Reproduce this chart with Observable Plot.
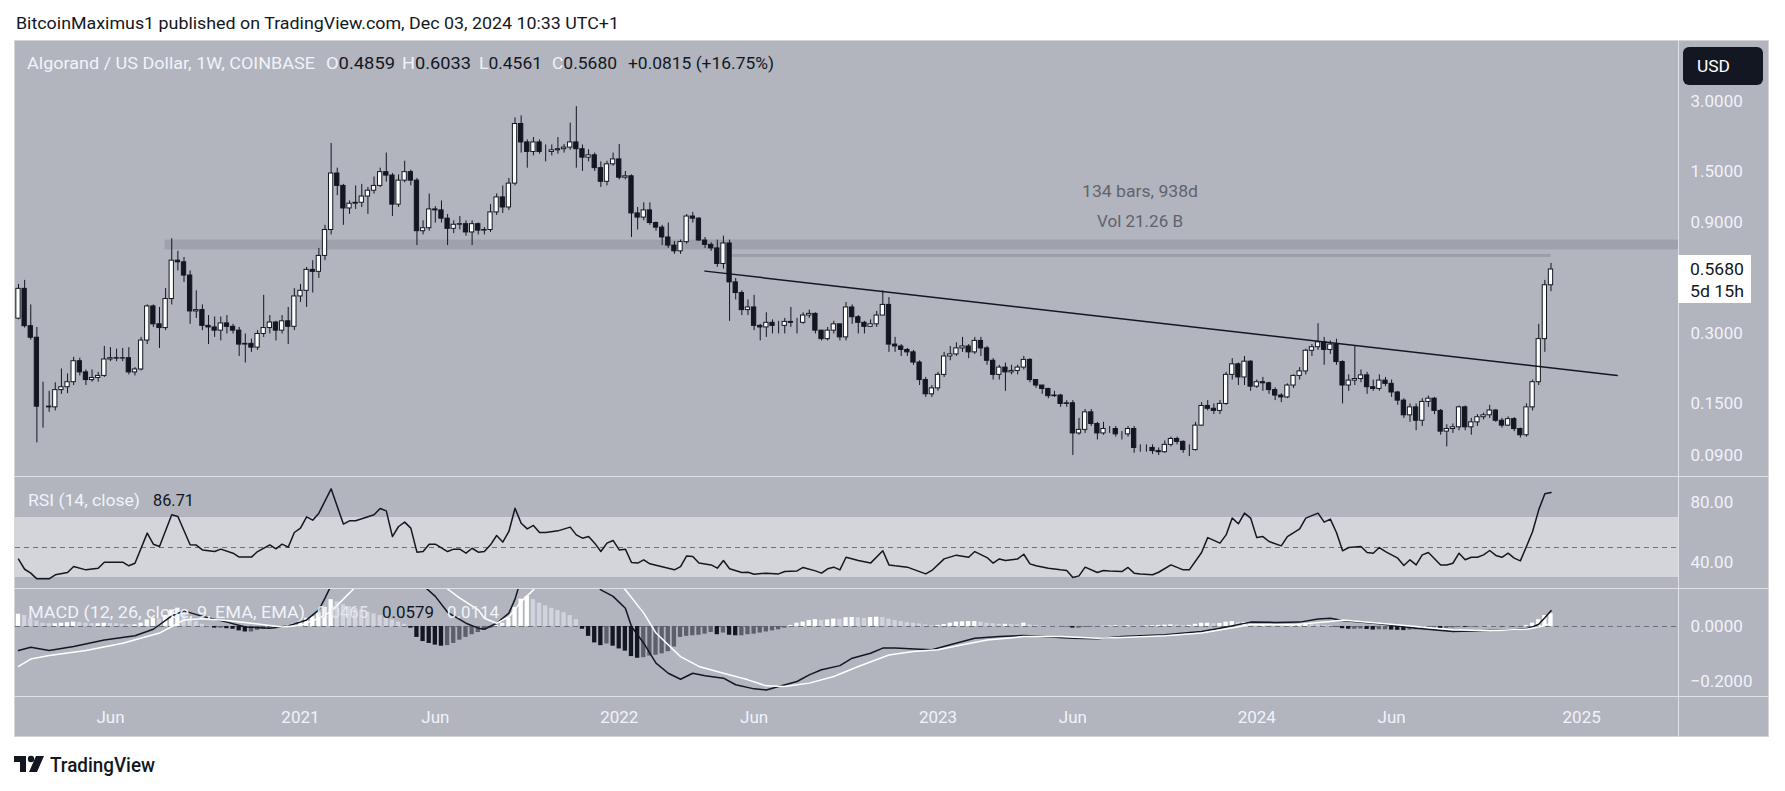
<!DOCTYPE html>
<html><head><meta charset="utf-8">
<script src="https://cdn.jsdelivr.net/npm/d3@7"></script>
<script src="https://cdn.jsdelivr.net/npm/@observablehq/plot@0.6"></script>
<style>
html,body{margin:0;padding:0;background:#ffffff;}
#root{position:relative;width:1785px;height:791px;overflow:hidden;font-family:Roboto,"Noto Sans",sans-serif;}
</style></head>
<body><div id="root"></div>
<script>
// ---------------- DATA ----------------
// weekly candles, week 0 = 2020-02-17, last week 250 = 2024-12-02
const firstOpen = 0.349;
const closes = [
0.469,0.324,0.289,0.146,0.146,0.145,0.172,0.177,0.186,0.229,
0.205,0.190,0.194,0.198,0.233,0.236,0.235,0.236,0.205,0.211,
0.281,0.394,0.330,0.318,0.424,0.620,0.610,0.535,0.375,0.380,
0.325,0.320,0.310,0.333,0.322,0.310,0.270,0.272,0.262,0.300,
0.318,0.336,0.310,0.340,0.322,0.435,0.460,0.566,0.555,0.650,
0.840,1.470,1.300,1.040,1.090,1.100,1.170,1.240,1.300,1.490,
1.440,1.080,1.370,1.490,1.370,0.830,0.855,1.030,1.020,0.940,
0.850,0.885,0.890,0.820,0.890,0.835,0.840,1.000,1.160,1.050,
1.330,2.400,2.000,1.820,2.000,1.820,1.820,1.850,1.870,1.900,
2.000,1.870,1.720,1.760,1.550,1.354,1.610,1.690,1.410,1.430,
0.990,0.950,1.020,0.900,0.860,0.780,0.720,0.680,0.745,0.960,
0.940,0.757,0.725,0.700,0.600,0.735,0.500,0.450,0.380,0.390,
0.325,0.320,0.335,0.325,0.325,0.338,0.335,0.335,0.360,0.366,
0.310,0.285,0.310,0.330,0.290,0.390,0.354,0.335,0.322,0.330,
0.360,0.400,0.270,0.265,0.256,0.250,0.226,0.190,0.165,0.175,
0.200,0.240,0.245,0.260,0.265,0.250,0.280,0.260,0.230,0.200,
0.215,0.205,0.208,0.215,0.232,0.190,0.180,0.174,0.162,0.163,
0.150,0.151,0.112,0.116,0.138,0.123,0.112,0.117,0.117,0.111,
0.111,0.117,0.097,0.097,0.097,0.094,0.093,0.100,0.106,0.103,
0.095,0.095,0.121,0.147,0.143,0.140,0.150,0.200,0.222,0.195,
0.228,0.178,0.186,0.184,0.172,0.163,0.160,0.180,0.198,0.207,
0.254,0.263,0.276,0.256,0.270,0.227,0.180,0.189,0.192,0.199,
0.177,0.174,0.189,0.183,0.168,0.155,0.134,0.145,0.127,0.153,
0.158,0.140,0.114,0.117,0.119,0.145,0.119,0.125,0.1315,0.134,
0.1405,0.127,0.121,0.129,0.117,0.110,0.145,0.186,0.285,0.4859,
0.568];
const highs = [
0.49,0.51,0.40,0.32,0.186,0.17,0.185,0.212,0.202,0.238,
0.236,0.21,0.21,0.205,0.265,0.262,0.258,0.26,0.262,0.215,
0.29,0.40,0.40,0.39,0.47,0.77,0.68,0.64,0.56,0.46,
0.40,0.36,0.355,0.355,0.36,0.33,0.32,0.30,0.285,0.31,
0.44,0.36,0.34,0.36,0.39,0.47,0.49,0.58,0.62,0.70,
0.88,1.98,1.55,1.32,1.12,1.30,1.32,1.28,1.42,1.55,
1.80,1.47,1.45,1.66,1.52,1.40,0.92,1.20,1.06,1.12,
0.98,0.92,0.96,0.92,0.92,0.90,0.86,1.08,1.20,1.30,
1.40,2.55,2.60,2.05,2.10,2.05,1.95,1.95,2.10,1.96,
2.42,2.85,1.95,1.86,1.80,1.65,1.66,1.80,1.96,1.50,
1.45,1.05,1.10,1.10,0.91,0.88,0.90,0.75,0.76,0.98,
1.00,0.95,0.78,0.74,0.76,0.79,0.76,0.52,0.46,0.42,
0.44,0.33,0.37,0.345,0.34,0.35,0.39,0.35,0.37,0.38,
0.37,0.31,0.32,0.34,0.33,0.41,0.40,0.36,0.34,0.345,
0.375,0.46,0.43,0.29,0.27,0.26,0.255,0.23,0.195,0.18,
0.205,0.25,0.265,0.275,0.29,0.27,0.29,0.29,0.265,0.235,
0.22,0.225,0.22,0.22,0.24,0.235,0.19,0.18,0.175,0.17,
0.165,0.155,0.155,0.13,0.142,0.142,0.125,0.125,0.12,0.12,
0.114,0.12,0.12,0.10,0.10,0.10,0.097,0.104,0.108,0.108,
0.104,0.10,0.125,0.152,0.155,0.15,0.155,0.205,0.235,0.225,
0.24,0.23,0.19,0.195,0.186,0.176,0.166,0.183,0.20,0.215,
0.258,0.27,0.332,0.29,0.28,0.285,0.23,0.20,0.267,0.21,
0.205,0.19,0.20,0.195,0.19,0.17,0.158,0.15,0.15,0.158,
0.162,0.16,0.142,0.122,0.123,0.147,0.147,0.13,0.135,0.137,
0.148,0.142,0.13,0.132,0.131,0.118,0.15,0.19,0.33,0.51,
0.6033];
const lows = [
0.345,0.318,0.282,0.102,0.118,0.138,0.14,0.165,0.166,0.18,
0.198,0.18,0.186,0.186,0.195,0.228,0.228,0.228,0.20,0.198,
0.208,0.27,0.32,0.26,0.31,0.40,0.56,0.50,0.33,0.35,
0.31,0.27,0.29,0.28,0.30,0.30,0.24,0.225,0.25,0.255,
0.29,0.30,0.28,0.30,0.27,0.31,0.41,0.39,0.45,0.52,
0.62,0.80,1.18,0.88,0.98,1.03,1.05,0.98,1.20,1.28,
1.35,0.96,1.05,1.34,1.30,0.72,0.80,0.83,0.90,0.90,
0.72,0.81,0.84,0.79,0.72,0.80,0.80,0.82,0.97,0.99,
1.02,1.30,1.80,1.55,1.75,1.78,1.65,1.75,1.78,1.80,
1.85,1.55,1.50,1.65,1.50,1.28,1.30,1.58,1.38,1.38,
0.78,0.84,0.92,0.88,0.83,0.72,0.70,0.66,0.66,0.73,
0.90,0.75,0.70,0.68,0.58,0.57,0.34,0.42,0.36,0.36,
0.31,0.28,0.29,0.30,0.30,0.30,0.32,0.30,0.33,0.35,
0.30,0.28,0.28,0.30,0.28,0.28,0.33,0.30,0.30,0.32,
0.32,0.36,0.25,0.25,0.24,0.24,0.22,0.18,0.16,0.16,
0.17,0.195,0.23,0.24,0.25,0.235,0.245,0.24,0.22,0.19,
0.19,0.17,0.20,0.20,0.21,0.185,0.175,0.165,0.158,0.16,
0.145,0.145,0.09,0.11,0.112,0.12,0.105,0.11,0.112,0.108,
0.105,0.108,0.092,0.093,0.093,0.091,0.09,0.092,0.098,0.10,
0.092,0.089,0.094,0.12,0.14,0.135,0.135,0.148,0.19,0.18,
0.18,0.17,0.175,0.17,0.165,0.155,0.152,0.158,0.175,0.19,
0.20,0.24,0.255,0.22,0.245,0.22,0.15,0.17,0.18,0.185,
0.165,0.17,0.17,0.178,0.16,0.148,0.13,0.125,0.115,0.12,
0.145,0.135,0.11,0.098,0.112,0.115,0.115,0.11,0.12,0.128,
0.13,0.125,0.118,0.12,0.114,0.107,0.108,0.14,0.18,0.25,
0.4561];

// RSI(14): [week, value]
const rsiPoints = [[0,42.2],[1,35.5],[2,32.9],[3,29.1],[5,29.1],[6,31.8],[8,33.3],[9,37.3],[11,35.1],[13,36.2],[14,40.2],[17,40.2],[18,37.8],[19,39.5],[21,59.6],[22,52.2],[23,50.7],[25,71.8],[26,70.7],[28,51.8],[29,51.6],[30,48.4],[32,47.3],[33,48.9],[35,46.2],[36,43.6],[38,43.6],[39,47.3],[41,51.8],[42,49.1],[43,52.2],[44,50.2],[45,60.0],[46,62.9],[47,70.4],[48,68.2],[49,72.9],[51,89.1],[53,65.6],[54,67.8],[55,67.8],[58,71.8],[59,76.0],[60,74.4],[61,57.3],[62,64.0],[63,66.9],[64,62.9],[65,46.9],[66,47.3],[67,52.2],[68,52.2],[70,47.3],[71,48.9],[72,48.9],[73,46.2],[74,49.5],[75,46.9],[76,47.3],[77,51.8],[78,58.0],[79,53.6],[80,60.7],[81,76.2],[82,66.2],[83,62.4],[84,64.7],[85,60.0],[86,60.0],[88,61.1],[90,63.6],[91,58.4],[92,56.2],[93,57.3],[94,52.9],[95,47.3],[96,52.9],[97,54.7],[98,48.4],[99,48.9],[100,40.0],[101,39.6],[102,41.8],[103,39.1],[107,35.1],[108,37.3],[109,44.4],[110,44.0],[111,39.6],[113,38.4],[114,36.2],[115,41.3],[116,35.8],[118,33.3],[119,33.5],[120,32.2],[122,32.9],[124,32.4],[125,34.0],[127,34.4],[128,36.7],[130,34.4],[131,32.9],[132,35.8],[133,36.9],[134,35.1],[135,43.5],[137,41.3],[139,39.6],[141,47.8],[142,38.4],[143,37.8],[145,36.9],[148,32.4],[149,34.7],[151,42.4],[153,44.9],[155,43.5],[156,47.3],[158,43.3],[159,39.6],[160,42.4],[161,41.3],[163,42.4],[164,45.5],[165,39.1],[166,37.8],[168,36.2],[170,35.1],[171,34.7],[172,30.0],[173,31.1],[174,36.9],[176,33.3],[177,34.7],[178,34.4],[180,34.0],[181,36.7],[182,32.9],[183,32.4],[185,31.8],[186,33.5],[188,38.4],[190,35.1],[191,35.1],[193,46.7],[194,56.6],[196,52.9],[197,58.4],[198,69.6],[199,65.8],[200,72.9],[201,69.6],[202,56.6],[203,57.3],[204,54.0],[206,51.1],[207,57.3],[209,62.4],[210,69.6],[212,72.9],[213,66.9],[214,68.9],[215,60.0],[216,47.8],[217,50.0],[219,50.7],[220,46.7],[221,46.2],[222,50.0],[223,47.3],[225,42.9],[226,38.0],[227,41.8],[228,38.4],[229,45.1],[230,46.7],[232,38.4],[233,38.4],[234,39.5],[235,46.2],[236,41.8],[237,43.5],[238,43.5],[239,45.1],[240,48.0],[241,44.7],[242,43.5],[243,46.2],[244,42.9],[245,41.1],[246,50.7],[247,60.7],[248,75.1],[249,85.8],[250,86.71]];
const rsiBandLevels = [30, 70];
const rsiMidLevel = 50;
const rsiTicks = [80, 40];

// MACD (12, 26, close, 9): [week, value]
const macdPoints = [[0,-0.088],[2,-0.076],[5,-0.088],[9,-0.073],[14,-0.049],[19,-0.034],[22,-0.010],[25,0.039],[27,0.057],[30,0.037],[34,0.016],[37,-0.002],[41,-0.006],[44,0.002],[47,0.024],[49,0.061],[50,0.104],[51,0.15],[53,0.22],[56,0.27],[59,0.30],[62,0.28],[64,0.22],[66,0.15],[68,0.110],[70,0.052],[73,0.012],[75,-0.006],[76,-0.010],[78,0.012],[80,0.049],[81,0.10],[83,0.25],[86,0.30],[89,0.29],[92,0.22],[94,0.16],[95,0.134],[97,0.110],[99,0.067],[100,0.0],[102,-0.061],[104,-0.134],[106,-0.171],[108,-0.193],[110,-0.171],[112,-0.180],[115,-0.189],[117,-0.213],[120,-0.228],[122,-0.232],[124,-0.219],[127,-0.201],[129,-0.177],[131,-0.158],[134,-0.143],[136,-0.116],[139,-0.098],[141,-0.079],[143,-0.079],[147,-0.083],[149,-0.085],[152,-0.067],[156,-0.043],[160,-0.037],[164,-0.033],[167,-0.037],[172,-0.043],[176,-0.045],[180,-0.037],[183,-0.034],[187,-0.030],[193,-0.018],[196,-0.006],[201,0.016],[205,0.015],[209,0.016],[212,0.027],[214,0.030],[216,0.022],[222,0.010],[228,-0.006],[234,-0.018],[240,-0.015],[244,-0.012],[246,-0.008],[247,-0.002],[248,0.008],[249,0.032],[250,0.0579]];
const signalPoints = [[0,-0.146],[2,-0.119],[5,-0.106],[11,-0.088],[17,-0.061],[23,-0.024],[26,0.012],[27,0.024],[30,0.028],[34,0.022],[38,0.012],[43,-0.002],[46,0.004],[49,0.030],[51,0.055],[53,0.10],[55,0.145],[57,0.20],[62,0.25],[66,0.21],[70,0.137],[72,0.104],[75,0.061],[76,0.030],[78,0.012],[80,0.035],[82,0.091],[84,0.134],[86,0.20],[90,0.25],[95,0.22],[99,0.134],[102,0.049],[104,-0.024],[108,-0.110],[111,-0.146],[115,-0.171],[119,-0.195],[122,-0.217],[125,-0.219],[129,-0.207],[133,-0.183],[137,-0.146],[142,-0.104],[146,-0.091],[150,-0.085],[154,-0.067],[158,-0.049],[164,-0.037],[170,-0.037],[176,-0.043],[181,-0.039],[187,-0.034],[193,-0.024],[201,0.006],[208,0.006],[214,0.018],[216,0.024],[222,0.012],[228,0.0],[234,-0.012],[240,-0.016],[246,-0.010],[248,-0.002],[249,0.004],[250,0.0114]];
const histValues = [
0.045,0.040,0.030,0.020,0.012,0.010,0.010,0.012,0.014,0.016,
0.014,0.012,0.010,0.010,0.012,0.011,0.010,0.008,0.006,0.006,
0.012,0.024,0.030,0.028,0.040,0.060,0.067,0.050,0.030,0.018,
0.008,0.002,-0.006,-0.006,-0.008,-0.010,-0.016,-0.020,-0.020,-0.014,
-0.010,-0.006,-0.004,-0.002,0.004,0.010,0.018,0.030,0.036,0.050,
0.070,0.098,0.090,0.080,0.072,0.066,0.060,0.052,0.046,0.040,
0.034,0.024,0.016,0.008,-0.006,-0.040,-0.055,-0.062,-0.068,-0.072,
-0.070,-0.062,-0.050,-0.040,-0.030,-0.022,-0.014,-0.006,0.004,0.012,
0.030,0.070,0.100,0.110,0.098,0.085,0.075,0.066,0.058,0.050,
0.040,0.025,-0.010,-0.036,-0.060,-0.070,-0.064,-0.072,-0.082,-0.090,
-0.110,-0.116,-0.114,-0.108,-0.105,-0.100,-0.092,-0.075,-0.040,-0.036,
-0.034,-0.032,-0.028,-0.022,-0.030,-0.024,-0.032,-0.034,-0.034,-0.030,
-0.028,-0.024,-0.020,-0.016,-0.012,-0.006,0.004,0.012,0.016,0.022,
0.025,0.022,0.024,0.027,0.026,0.032,0.033,0.032,0.030,0.033,
0.034,0.033,0.027,0.022,0.018,0.014,0.012,0.009,0.006,0.003,
0.004,0.007,0.012,0.016,0.017,0.018,0.018,0.016,0.012,0.010,
0.008,0.008,0.007,0.006,0.012,0.006,0.004,0.002,0.001,0.0005,
0.0002,-0.001,-0.006,-0.006,-0.003,-0.002,0.000,0.001,0.002,0.003,
0.002,0.003,0.002,0.001,0.002,0.003,0.004,0.005,0.006,0.005,
0.004,0.004,0.008,0.012,0.012,0.010,0.011,0.016,0.018,0.014,
0.015,0.008,0.006,0.006,0.005,0.004,0.003,0.004,0.005,0.006,
0.008,0.007,0.006,0.004,0.003,-0.002,-0.008,-0.010,-0.010,-0.009,
-0.011,-0.013,-0.012,-0.012,-0.013,-0.014,-0.015,-0.013,-0.012,-0.009,
-0.007,-0.006,-0.008,-0.007,-0.005,-0.002,-0.003,-0.002,-0.001,0.000,
0.001,0.000,-0.001,0.000,-0.001,-0.001,0.004,0.012,0.025,0.040,
0.0465];
const macdTicks = [0, -0.2];

// annotations
const trendLine = [[112, 0.559], [260.8, 0.199]];          // [week, price]
const resistanceZone = {fromWeek: 23.9, low: 0.69, high: 0.76};
const measureLine = {fromWeek: 116, toWeek: 250, price: 0.652};
const priceTicks = [3, 1.5, 0.9, 0.3, 0.15, 0.09];
const lastPrice = 0.568;

// time axis
const timeTickDates = ["2020-06-01","2021-01-04","2021-06-07","2022-01-03","2022-06-06","2023-01-02","2023-06-05","2024-01-01","2024-06-03","2025-01-06"];
const timeTickLabels = ["Jun","2021","Jun","2022","Jun","2023","Jun","2024","Jun","2025"];

// ---------------- BUILD ----------------
const DAY = 864e5;
const firstWeek = Date.UTC(2020, 1, 17);
const wk = w => new Date(firstWeek + w * 7 * DAY);
const xDom = [wk(-0.489), wk(270.8)];
const INK = "#131722";
const BG = "#b2b5be";
const AXIS_TXT = "#f0f3fa";

const candles = closes.map((c, i) => ({
  date: wk(i), x1: wk(i - 0.35), x2: wk(i + 0.35),
  open: i === 0 ? firstOpen : closes[i - 1], close: c, high: highs[i], low: lows[i]
}));
const hist = histValues.map((v, i) => {
  const prev = i === 0 ? v : histValues[i - 1];
  let col;
  if (v >= 0) col = v >= prev ? "#ffffff" : "#d1d4dc";
  else col = v < prev ? INK : "#5d606b";
  return {x1: wk(i - 0.35), x2: wk(i + 0.35), v, col};
});
const toXY = arr => arr.map(([w, v]) => ({date: wk(w), v}));
const labelByTime = new Map(timeTickDates.map((d, i) => [+new Date(d + "T00:00Z"), timeTickLabels[i]]));

const common = {
  width: 1754, marginLeft: 0, marginRight: 91, marginTop: 0,
  style: {background: "transparent", color: AXIS_TXT, fontFamily: "Roboto, sans-serif", fontSize: "17px", overflow: "visible", maxWidth: "none"}
};

const pricePlot = Plot.plot({
  ...common, height: 435, marginBottom: 0,
  x: {type: "utc", domain: xDom, axis: null},
  y: {type: "log", domain: [0.0731, 5.435], axis: null},
  color: {type: "identity"},
  marks: [
    Plot.rect([resistanceZone], {x1: d => wk(d.fromWeek), x2: () => xDom[1], y1: "low", y2: "high", fill: "#757884", fillOpacity: 0.3}),
    Plot.ruleY([measureLine], {y: "price", x1: d => wk(d.fromWeek), x2: d => wk(d.toWeek), stroke: "#9c9fa8", strokeWidth: 3}),
    Plot.ruleX(candles, {x: "date", y1: "low", y2: "high", stroke: INK, strokeWidth: 1}),
    Plot.rect(candles, {x1: "x1", x2: "x2", y1: "open", y2: "close", fill: d => d.close >= d.open ? "#ffffff" : INK, stroke: INK, strokeWidth: 1}),
    Plot.line(toXY(trendLine), {x: "date", y: "v", stroke: INK, strokeWidth: 1.5}),
    // right-hand price scale labels
    Plot.text(priceTicks, {x: () => xDom[1], y: d => d, text: d => d.toFixed(4), dx: 12, textAnchor: "start", fill: AXIS_TXT, fontSize: 17})
  ]
});

const rsiPlot = Plot.plot({
  ...common, height: 112, marginBottom: 0,
  x: {type: "utc", domain: xDom, axis: null},
  y: {domain: [22.67, 97.33], label: null},
  marks: [
    Plot.rect([rsiBandLevels], {x1: () => xDom[0], x2: () => xDom[1], y1: d => d[0], y2: d => d[1], fill: "#d3d5da"}),
    Plot.ruleY([rsiMidLevel], {stroke: "#6f727d", strokeWidth: 1, strokeDasharray: "5,4"}),
    Plot.line(toXY(rsiPoints), {x: "date", y: "v", stroke: INK, strokeWidth: 1.5}),
    Plot.axisY({anchor: "right", ticks: rsiTicks, tickFormat: d => d.toFixed(2), tickSize: 0, tickPadding: 12, fontSize: 17, label: null})
  ]
});

const macdPlot = Plot.plot({
  ...common, height: 149, marginBottom: 41,
  x: {type: "utc", domain: xDom, label: null},
  y: {domain: [-0.2559, 0.1389], label: null},
  color: {type: "identity"},
  marks: [
    Plot.ruleY([0], {stroke: "#6f727d", strokeWidth: 1, strokeDasharray: "5,4"}),
    Plot.rect(hist, {x1: "x1", x2: "x2", y1: () => 0, y2: "v", fill: "col", clip: true}),
    Plot.line(toXY(macdPoints), {x: "date", y: "v", stroke: INK, strokeWidth: 1.5, clip: true}),
    Plot.line(toXY(signalPoints), {x: "date", y: "v", stroke: "#ffffff", strokeWidth: 1.5, clip: true}),
    Plot.axisY({anchor: "right", ticks: macdTicks, tickFormat: d => d.toFixed(4).replace("-", "\u2212"), tickSize: 0, tickPadding: 12, fontSize: 17, label: null}),
    Plot.axisX({anchor: "bottom", ticks: timeTickDates.map(d => new Date(d + "T00:00Z")), tickFormat: d => labelByTime.get(+d), tickSize: 0, tickPadding: 14, fontSize: 17, label: null})
  ]
});

const root = document.getElementById("root");
function put(el, left, top, z) {
  el.style.position = "absolute"; el.style.left = left + "px"; el.style.top = top + "px";
  el.style.zIndex = z; root.appendChild(el);
}
function box(left, top, w, h, bg, z, extra) {
  const d = document.createElement("div");
  d.style.width = w + "px"; d.style.height = h + "px"; d.style.background = bg;
  d.style.boxSizing = "border-box";
  if (extra) Object.assign(d.style, extra);
  put(d, left, top, z);
}
// chart frame
box(14, 40, 1755, 697, BG, 1, {border: "1px solid #d3d5db"});
put(pricePlot, 15, 41, 2);
put(rsiPlot, 15, 476, 2);
put(macdPlot, 15, 588, 2);
// pane separators
const SEP = "#dfe1e6";
box(14, 476, 1755, 1, SEP, 3);
box(14, 588, 1755, 1, SEP, 3);
box(14, 696, 1755, 1, SEP, 3);
box(1678, 40, 1, 697, SEP, 3);

// overlay texts
const yLast = 41 + pricePlot.scale("y").apply(lastPrice);
const NS = "http://www.w3.org/2000/svg";
const ov = document.createElementNS(NS, "svg");
ov.setAttribute("width", 1785); ov.setAttribute("height", 791);
ov.style.fontFamily = "Roboto, sans-serif";
put(ov, 0, 0, 5);
function el(tag, attrs, parent) {
  const e = document.createElementNS(NS, tag);
  for (const k in attrs) e.setAttribute(k, attrs[k]);
  (parent || ov).appendChild(e); return e;
}
function txt(x, y, size, len, parts, anchor) {
  const t = el("text", {x, y, "font-size": size, textLength: len, lengthAdjust: "spacingAndGlyphs", "text-anchor": anchor || "start"});
  for (const [s, fill] of parts) { const sp = el("tspan", {fill}, t); sp.textContent = s; }
  return t;
}
const WHITE = "#f0f3fa";
txt(16, 29, 16, 603, [["BitcoinMaximus1 published on TradingView.com, Dec 03, 2024 10:33 UTC+1", INK]]);
txt(27, 69, 16, 288, [["Algorand / US Dollar, 1W, COINBASE", WHITE]]);
txt(326, 69, 16, 69, [["O", WHITE], ["0.4859", INK]]);
txt(402, 69, 16, 69, [["H", WHITE], ["0.6033", INK]]);
txt(479, 69, 16, 63, [["L", WHITE], ["0.4561", INK]]);
txt(552, 69, 16, 65, [["C", WHITE], ["0.5680", INK]]);
txt(628, 69, 16, 146, [["+0.0815 (+16.75%)", INK]]);
txt(1140, 197, 16, 116, [["134 bars, 938d", "#60636e"]], "middle");
txt(1140, 227, 16, 86, [["Vol 21.26 B", "#60636e"]], "middle");
txt(28, 506, 16, 112, [["RSI (14, close)", WHITE]]);
txt(153, 506, 16, 41, [["86.71", INK]]);
txt(28, 618, 16, 277, [["MACD (12, 26, close, 9, EMA, EMA)", WHITE]]);
txt(317, 618, 16, 51, [["0.0465", "#e4e6eb"]]);
txt(382, 618, 16, 52, [["0.0579", INK]]);
txt(447, 618, 16, 52, [["0.0114", WHITE]]);
// USD badge
el("rect", {x: 1683, y: 47, width: 80, height: 38, rx: 6, fill: INK});
txt(1697, 72, 17, 33, [["USD", "#ffffff"]]);
// last price label
el("rect", {x: 1678, y: yLast - 14, width: 73, height: 48, fill: "#ffffff"});
txt(1690, yLast + 6, 17, 54, [["0.5680", INK]]);
txt(1690, yLast + 28, 17, 54, [["5d 15h", INK]]);
// TradingView logo
el("path", {d: "M14 756 H26 V772 H20 V762 H14 Z", fill: INK});
el("circle", {cx: 31, cy: 759, r: 3.2, fill: INK});
el("path", {d: "M36 756 H44 L37 772 H29 Z", fill: INK});
const lg = txt(50, 772, 20, 105, [["TradingView", INK]]);
lg.setAttribute("font-weight", "500");
</script>
</body></html>
